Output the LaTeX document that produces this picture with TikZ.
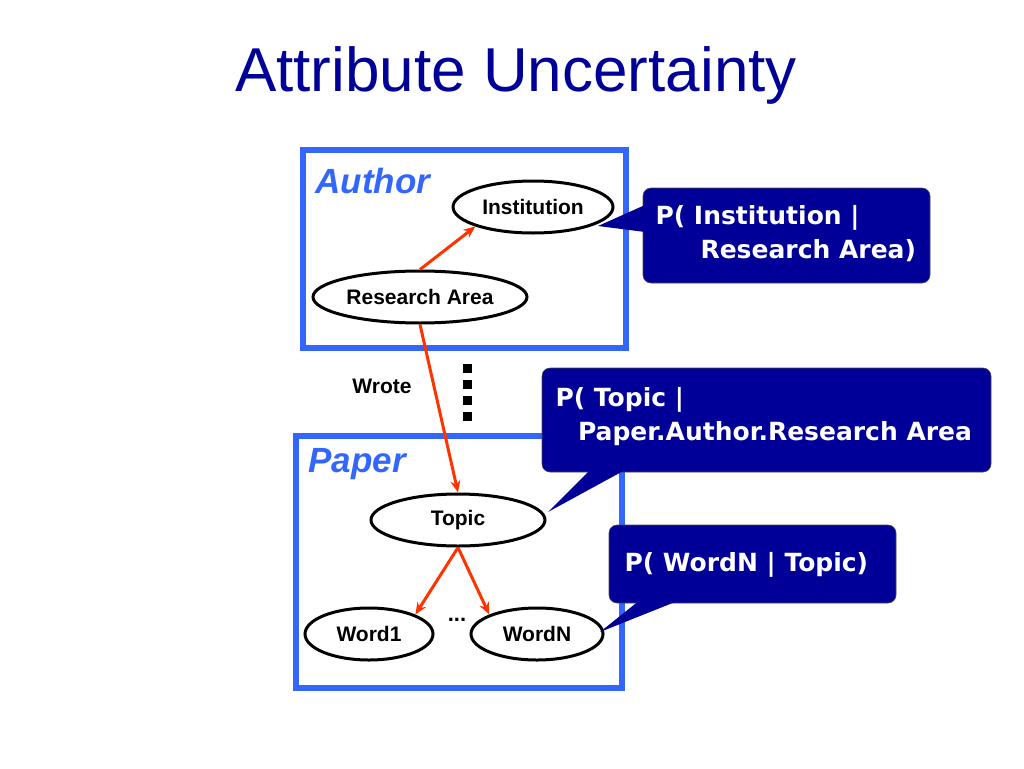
\documentclass[tikz,border=0pt]{standalone}
\usepackage{fontspec}
\setmainfont{Liberation Sans}
\newfontfamily\callfont{DejaVu Sans}
\usetikzlibrary{arrows.meta,shapes.geometric}
\definecolor{titleblue}{HTML}{000099}
\definecolor{boxblue}{HTML}{3366FF}
\definecolor{arr}{HTML}{FF3300}
\begin{document}
\begin{tikzpicture}[x=1pt,y=-1pt,
  ell/.style={draw,ellipse,inner sep=0pt,line width=3pt,font=\bfseries\fontsize{21}{24}\selectfont},
  frame/.style={draw=boxblue,line width=6pt},
  lbl/.style={text=boxblue,font=\bfseries\itshape\fontsize{35}{38}\selectfont,anchor=west},
  rel/.style={draw=arr,line width=3pt,-{Stealth[length=12pt,width=10pt]}},
  callout/.style={fill=titleblue,draw=black!70,line width=0.6pt,rounded corners=8pt},
  ctext/.style={text=white,font=\callfont\bfseries\fontsize{25}{34}\selectfont,align=left,anchor=north west}]
\useasboundingbox (0,0) rectangle (1024,768);
\node (title) at (516,75) {\color{titleblue}\fontsize{62}{70}\selectfont Attribute Uncertainty};
\draw[frame] (303,150) rectangle (626,348);
\draw[frame] (296,436) rectangle (622,688);
\node[lbl] (la) at (312,181) {Author};
\node[lbl] (lp) at (305,464) {Paper};
\node[ell,minimum width=160pt,minimum height=52pt] (inst) at (533,207) {Institution};
\node[ell,minimum width=214pt,minimum height=52pt] (ra) at (420,297) {Research Area};
\node[ell,minimum width=174pt,minimum height=52pt] (topic) at (458,520) {Topic};
\node[ell,minimum width=128pt,minimum height=52pt] (w1) at (369,634) {Word1};
\node[ell,minimum width=132pt,minimum height=52pt] (wn) at (537,634) {WordN};
\node[font=\bfseries\fontsize{21}{24}\selectfont] (wrote) at (382,386) {Wrote};
\node[font=\bfseries\fontsize{22}{22}\selectfont] (dots) at (457,620) {...};
\foreach \yy in {364,380,396,412} \fill (463,\yy) rectangle (472,\yy+9);
\draw[rel] (ra.north) -- (inst.south west);
\draw[rel] (ra.south) -- (topic.north);
\draw[rel] (topic.south) -- (w1.north east);
\draw[rel] (topic.south) -- (wn.north west);
% callouts
\coordinate (t1) at (598,226);
\coordinate (t2) at (548,512);
\coordinate (t3) at (600,632);
\path[callout] (643,188) rectangle (930,283);
\fill[titleblue] (645,205) -- (t1) -- (645,232) -- cycle;
\node[ctext] (c1) at (652,202) {P( Institution |\\\hspace{1.8em}Research Area)};
\path[callout] (542,368) rectangle (991,472);
\fill[titleblue] (590,470) -- (t2) -- (625,470) -- cycle;
\node[ctext] (c2) at (552,384) {P( Topic |\\\hspace{0.9em}Paper.Author.Research Area};
\path[callout] (609,525) rectangle (896,603);
\fill[titleblue] (640,600) -- (t3) -- (680,600) -- cycle;
\node[ctext] (c3) at (621,549) {P( WordN | Topic)};
\end{tikzpicture}
\end{document}
